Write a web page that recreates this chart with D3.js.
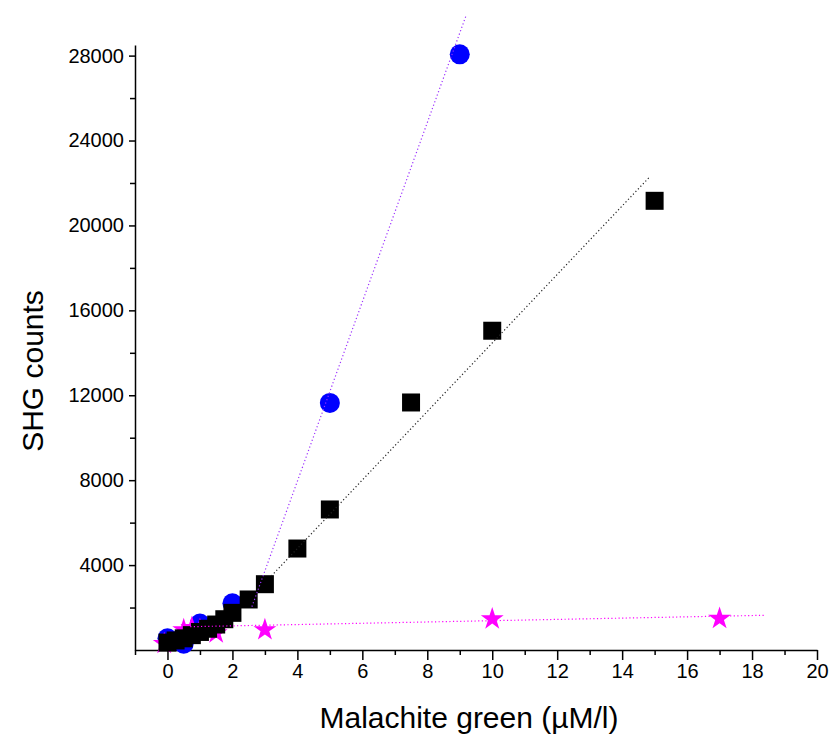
<!DOCTYPE html>
<html>
<head>
<meta charset="utf-8">
<script src="https://cdn.jsdelivr.net/npm/d3@7"></script>
<style>
  body { margin: 0; background: #fff; }
  svg { display: block; }
  .tick text { font-family: "Liberation Sans", Arial, sans-serif; }
</style>
</head>
<body>
<svg width="830" height="736"></svg>
<script>
// data
let squareX = [0, 0.25, 0.5, 0.75, 1, 1.25, 1.5, 1.75, 2, 2.5, 3, 4, 5, 7.5, 10, 15]
let squareY = [350, 450, 550, 700, 850, 1000, 1200, 1450, 1750, 2380, 3100, 4780, 6620, 11660, 15040, 21160]

let circleX = [0, 0.5, 1, 2, 5, 9]
let circleY = [550, 300, 1250, 2200, 11640, 28060]

let starX = [-0.1, 0.5, 0.75, 1, 1.5, 3, 10, 17]
let starY = [300, 950, 1050, 950, 800, 950, 1460, 1480]

// dotted fit lines, two end points each
let fitBlueX = [2.6, 9.2], fitBlueY = [2040, 29910]
let fitBlackX = [3.2, 14.85], fitBlackY = [3490, 22290]
let fitPinkX = [0.7, 18.4], fitPinkY = [1098, 1636]

let xTicks = [0, 2, 4, 6, 8, 10, 12, 14, 16, 18, 20]
let yTicks = [4000, 8000, 12000, 16000, 20000, 24000, 28000]

var svg = d3.select("svg")

var x = d3.scaleLinear().domain([-1, 20]).range([135, 817])
var y = d3.scaleLinear().domain([0, 28500]).range([650, 45])

function pts(xs, ys){ return xs.map(function(v, i){ return {x: v, y: ys[i]} }) }

// x axis, major + minor
var xMinor = d3.range(-1, 21, 1).filter(function(v){ return v % 2 !== 0 })
svg.append("g")
     .attr("transform", "translate(0,650)")
     .call(d3.axisBottom(x).tickValues(xMinor).tickSize(5).tickFormat(""))
     .call(g => g.select(".domain").remove())
svg.append("g")
     .attr("transform", "translate(0,650)")
     .call(d3.axisBottom(x).tickValues(xTicks).tickSize(10).tickSizeOuter(0).tickPadding(4))
     .call(g => g.selectAll("text").attr("font-size", 20).attr("fill", "#000"))

// y axis
var yMinor = d3.range(2000, 28500, 4000)
svg.append("g")
     .attr("transform", "translate(135,0)")
     .call(d3.axisLeft(y).tickValues(yMinor).tickSize(5).tickFormat(""))
     .call(g => g.select(".domain").remove())
svg.append("g")
     .attr("transform", "translate(135,0)")
     .call(d3.axisLeft(y).tickValues(yTicks).tickSize(6).tickSizeOuter(0).tickPadding(5).tickFormat(d3.format("d")))
     .call(g => g.selectAll("text").attr("font-size", 20).attr("fill", "#000"))

svg.selectAll(".domain, .tick line").attr("stroke", "#000").attr("stroke-width", 1.5)

// markers
svg.append("g").selectAll("path")
     .data(pts(circleX, circleY))
     .enter().append("path")
          .attr("d", d3.symbol(d3.symbolCircle, Math.PI * 100))
          .attr("transform", function(d){ return "translate(" + x(d.x) + "," + y(d.y) + ")" })
          .attr("fill", "#0000ff")

svg.append("g").selectAll("path")
     .data(pts(starX, starY))
     .enter().append("path")
          .attr("d", d3.symbol(d3.symbolStar, 144 / 0.8908))
          .attr("transform", function(d){ return "translate(" + x(d.x) + "," + y(d.y) + ")" })
          .attr("fill", "#ff00ff")

svg.append("g").selectAll("path")
     .data(pts(squareX, squareY))
     .enter().append("path")
          .attr("d", d3.symbol(d3.symbolSquare, 18 * 18))
          .attr("transform", function(d){ return "translate(" + x(d.x) + "," + y(d.y) + ")" })
          .attr("fill", "#000")

// fit lines
var line = d3.line().x(function(d){ return x(d.x) }).y(function(d){ return y(d.y) })
var fits = [
     {p: pts(fitBlueX, fitBlueY), c: "#9b30ff"},
     {p: pts(fitBlackX, fitBlackY), c: "#222"},
     {p: pts(fitPinkX, fitPinkY), c: "#ff00ff"}
]
fits.forEach(function(f){
     svg.append("path")
          .attr("d", line(f.p))
          .attr("fill", "none")
          .attr("stroke", f.c)
          .attr("stroke-width", 1.2)
          .attr("stroke-dasharray", "1.2,2.4")
})

// titles
svg.append("text")
     .attr("x", 469).attr("y", 728)
     .attr("text-anchor", "middle")
     .attr("font-family", "'Liberation Sans', Arial, sans-serif")
     .attr("font-size", 30)
     .text("Malachite green (µM/l)")

svg.append("text")
     .attr("transform", "translate(43,371) rotate(-90)")
     .attr("text-anchor", "middle")
     .attr("font-family", "'Liberation Sans', Arial, sans-serif")
     .attr("font-size", 30)
     .text("SHG counts")
</script>
</body>
</html>
